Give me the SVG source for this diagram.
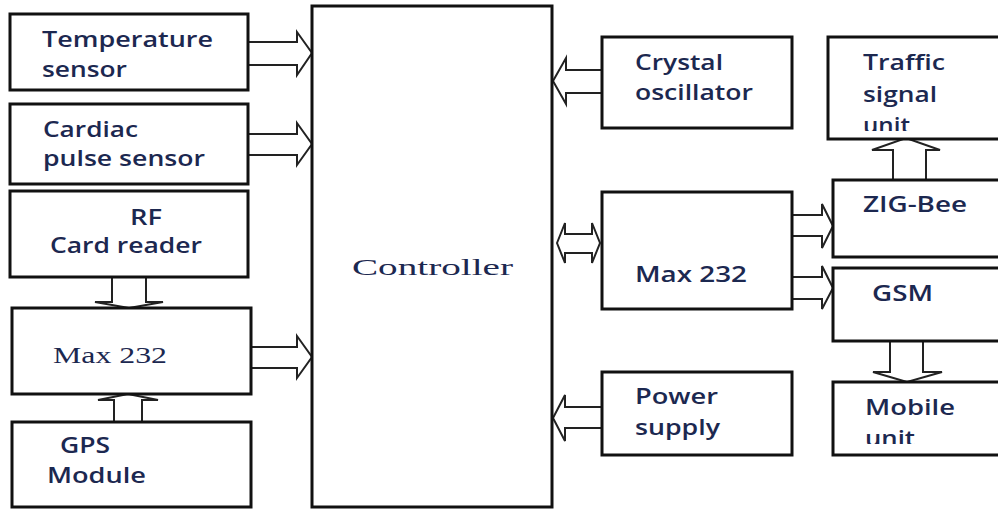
<svg xmlns="http://www.w3.org/2000/svg" width="998" height="509" viewBox="0 0 998 509">
<style>
.box{fill:#fff;stroke:#111;stroke-width:3}
.arr{fill:#fff;stroke:#222;stroke-width:2;stroke-linejoin:miter}
.t{font-family:"Open Sans","Liberation Sans",sans-serif;font-size:21px;font-weight:600;fill:#1c2850}
.s{font-family:"Liberation Serif","Times New Roman",serif;font-size:23px;fill:#1c2850}
</style>
<defs>
<clipPath id="clipTraffic"><rect x="830" y="38" width="170" height="93"/></clipPath>
<clipPath id="clipMobile"><rect x="835" y="383" width="170" height="61"/></clipPath>
</defs>
<rect width="998" height="509" fill="#fff"/>

<g id="connectors">
<polygon class="arr" points="248,42 297,42 297,32 312,53 297,75 297,65 248,65"/>
<polygon class="arr" points="248,134 297,134 297,123 312,144 297,165 297,155 248,155"/>
<polygon class="arr" points="251,347 297,347 297,336 312,357 297,378 297,368 251,368"/>
<polygon class="arr" points="112,277 112,302 95,302 129,308 163,302 146,302 146,277"/>
<polygon class="arr" points="114,422 114,400 98,400 128,394 158,400 142,400 142,422"/>
<polygon class="arr" points="602,70 566,70 566,58 553,81 566,104 566,93 602,93"/>
<polygon class="arr" points="602,407 565,407 565,395 553,418 565,441 565,428 602,428"/>
<polygon class="arr" points="557,243 565,223 565,234 592,234 592,223 600,243 592,263 592,253 565,253 565,263"/>
<polygon class="arr" points="792,215 822,215 822,204 833,226 822,248 822,236 792,236"/>
<polygon class="arr" points="792,277 822,277 822,266 833,288 822,309 822,299 792,299"/>
<polygon class="arr" points="893,180 893,150 872,150 906,138 940,150 926,150 926,180"/>
<polygon class="arr" points="890,341 890,372 873,372 907,382 942,372 923,372 923,341"/>
</g>

<g id="temperature">
<rect class="box" x="10" y="14" width="238" height="76"/>
<text class="t" x="42" y="47" textLength="171" lengthAdjust="spacingAndGlyphs">Temperature</text>
<text class="t" x="42" y="77" textLength="85" lengthAdjust="spacingAndGlyphs">sensor</text>
</g>
<g id="cardiac">
<rect class="box" x="10" y="104" width="238" height="80"/>
<text class="t" x="43" y="137" textLength="95" lengthAdjust="spacingAndGlyphs">Cardiac</text>
<text class="t" x="43" y="166" textLength="162" lengthAdjust="spacingAndGlyphs">pulse sensor</text>
</g>
<g id="rf">
<rect class="box" x="10" y="191" width="238" height="86"/>
<text class="t" x="130" y="225" textLength="32" lengthAdjust="spacingAndGlyphs">RF</text>
<text class="t" x="50" y="253" textLength="152" lengthAdjust="spacingAndGlyphs">Card reader</text>
</g>
<g id="max232left">
<rect class="box" x="12" y="308" width="239" height="86"/>
<text class="s" x="53" y="363" textLength="114" lengthAdjust="spacingAndGlyphs">Max 232</text>
</g>
<g id="gps">
<rect class="box" x="12" y="422" width="239" height="85"/>
<text class="t" x="60" y="453" textLength="50" lengthAdjust="spacingAndGlyphs">GPS</text>
<text class="t" x="47" y="483" textLength="99" lengthAdjust="spacingAndGlyphs">Module</text>
</g>
<g id="controller">
<rect class="box" x="312" y="6" width="240" height="501"/>
<text class="s" x="352" y="275" textLength="161" lengthAdjust="spacingAndGlyphs">Controller</text>
</g>
<g id="crystal">
<rect class="box" x="602" y="37" width="190" height="91"/>
<text class="t" x="635" y="70" textLength="88" lengthAdjust="spacingAndGlyphs">Crystal</text>
<text class="t" x="635" y="100" textLength="118" lengthAdjust="spacingAndGlyphs">oscillator</text>
</g>
<g id="max232right">
<rect class="box" x="602" y="192" width="190" height="117"/>
<text class="t" x="635" y="282" textLength="112" lengthAdjust="spacingAndGlyphs">Max 232</text>
</g>
<g id="power">
<rect class="box" x="602" y="372" width="190" height="83"/>
<text class="t" x="635" y="404" textLength="83" lengthAdjust="spacingAndGlyphs">Power</text>
<text class="t" x="635" y="435" textLength="85" lengthAdjust="spacingAndGlyphs">supply</text>
</g>
<g id="traffic">
<rect class="box" x="828" y="37" width="180" height="102"/>
<text class="t" x="863" y="70" textLength="82" lengthAdjust="spacingAndGlyphs">Traffic</text>
<text class="t" x="863" y="102" textLength="74" lengthAdjust="spacingAndGlyphs">signal</text>
<text class="t" x="863" y="133" textLength="47" lengthAdjust="spacingAndGlyphs" clip-path="url(#clipTraffic)">unit</text>
</g>
<g id="zigbee">
<rect class="box" x="833" y="180" width="175" height="77"/>
<text class="t" x="863" y="212" textLength="104" lengthAdjust="spacingAndGlyphs">ZIG-Bee</text>
</g>
<g id="gsm">
<rect class="box" x="833" y="268" width="175" height="73"/>
<text class="t" x="872" y="301" textLength="61" lengthAdjust="spacingAndGlyphs">GSM</text>
</g>
<g id="mobile">
<rect class="box" x="833" y="382" width="175" height="73"/>
<text class="t" x="865" y="415" textLength="90" lengthAdjust="spacingAndGlyphs">Mobile</text>
<text class="t" x="865" y="446" textLength="50" lengthAdjust="spacingAndGlyphs" clip-path="url(#clipMobile)">unit</text>
</g>
</svg>
